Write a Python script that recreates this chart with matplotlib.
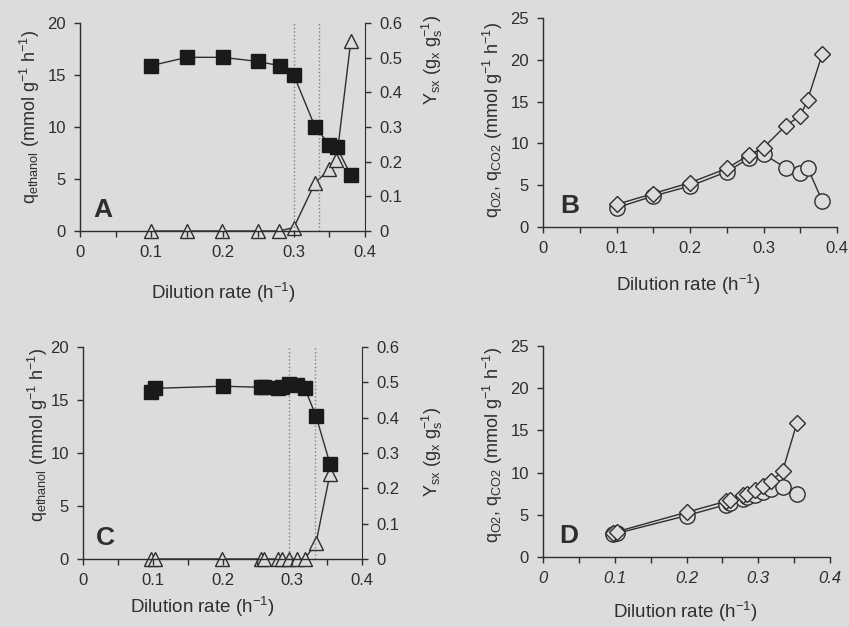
import matplotlib.pyplot as plt
import numpy as np

plt.rcParams['font.family'] = ['Liberation Sans', 'DejaVu Sans']
plt.rcParams['mathtext.fontset'] = 'custom'
plt.rcParams['mathtext.rm'] = 'Liberation Sans'
plt.rcParams['mathtext.it'] = 'Liberation Sans:italic'

# panel A / B (first set of chemostats)
d_ab = [0.10, 0.15, 0.20, 0.25, 0.28, 0.30, 0.33, 0.35, 0.36, 0.38]
q_eth_a = [15.9, 16.7, 16.7, 16.3, 15.9, 15.0, 10.0, 8.3, 8.1, 5.4]
ysx_a = [0.0, 0.0, 0.0, 0.0, 0.0, 0.01, 0.139, 0.178, 0.206, 0.547]
q_co2_b = [2.7, 4.0, 5.3, 7.0, 8.6, 9.5, 12.1, 13.3, 15.2, 20.7]
q_o2_b = [2.3, 3.7, 4.9, 6.6, 8.2, 8.7, 7.1, 6.5, 7.1, 3.1]
crit_a = [0.30, 0.335]

# panel C / D (second set)
d_cd = [0.097, 0.103, 0.20, 0.255, 0.26, 0.279, 0.285, 0.296, 0.307, 0.318, 0.334, 0.354]
q_eth_c = [15.8, 16.1, 16.3, 16.2, 16.2, 16.1, 16.2, 16.5, 16.4, 16.1, 13.5, 9.0]
ysx_c = [0.0, 0.0, 0.0, 0.0, 0.0, 0.0, 0.0, 0.0, 0.0, 0.0, 0.045, 0.24]
q_co2_d = [2.9, 3.0, 5.3, 6.6, 6.8, 7.3, 7.5, 7.9, 8.4, 9.0, 10.2, 15.9]
q_o2_d = [2.7, 2.8, 4.9, 6.2, 6.4, 6.9, 7.1, 7.3, 7.7, 8.0, 8.3, 7.5]
crit_c = [0.295, 0.333]

bg = '#dcdcdc'
ink = '#2e2e2e'

lbl_q = r"q$_{\mathrm{ethanol}}$ (mmol g$^{\mathrm{-1}}$ h$^{\mathrm{-1}}$)"
lbl_y = r"Y$_{\mathrm{sx}}$ (g$_{\mathrm{x}}$ g$_{\mathrm{s}}^{\mathrm{-1}}$)"
lbl_o = r"q$_{\mathrm{O2}}$, q$_{\mathrm{CO2}}$ (mmol g$^{\mathrm{-1}}$ h$^{\mathrm{-1}}$)"
lbl_x = r"Dilution rate (h$^{\mathrm{-1}}$)"

W, H = 849, 627
fig = plt.figure(figsize=(W / 100, H / 100), dpi=100, facecolor=bg)


def box(l, t, r, b):
    # pixel box -> figure fraction
    return [l / W, 1 - b / H, (r - l) / W, (b - t) / H]


def style(ax, ymax, ystep, italic=False):
    ax.set_facecolor('none')
    ax.set_xlim(0, 0.4)
    ax.set_ylim(0, ymax)
    ax.set_xticks(np.arange(0, 0.41, 0.1))
    ax.set_xticks(np.arange(0.05, 0.4, 0.1), minor=True)
    ax.set_xticklabels(['0', '0.1', '0.2', '0.3', '0.4'], style='italic' if italic else 'normal')
    ax.set_yticks(np.arange(0, ymax + 0.1, ystep))
    ax.spines['top'].set_visible(False)
    ax.spines['right'].set_visible(False)
    for s in ax.spines.values():
        s.set_color(ink)
        s.set_linewidth(1.0)
    ax.tick_params(which='both', direction='out', length=4, width=1, color=ink,
                   labelcolor=ink, labelsize=12, pad=6)


def left_panel(rect, d, q, y, crit, letter, pos_y, pos_r, pos_x):
    ax = fig.add_axes(rect)
    style(ax, 20, 5)
    for c in crit:
        ax.axvline(c, color='#7a8090', ls=':', lw=1.0, zorder=1)
    ax2 = ax.twinx()
    ax2.set_ylim(0, 0.6)
    ax2.set_yticks(np.arange(0, 0.61, 0.1))
    ax2.set_yticklabels(['0', '0.1', '0.2', '0.3', '0.4', '0.5', '0.6'])
    for s in ['top', 'left', 'bottom']:
        ax2.spines[s].set_visible(False)
    ax2.spines['right'].set_color(ink)
    ax2.tick_params(direction='out', length=4, width=1, color=ink,
                    labelcolor=ink, labelsize=12, pad=6)
    ax2.plot(d, y, '-^', color=ink, lw=1.0, ms=10, mfc=bg, mec=ink, mew=1.0,
             zorder=3, clip_on=False)
    ax.plot(d, q, '-s', color=ink, lw=1.0, ms=10, mfc='#1a1a1a', mec='#1a1a1a',
            zorder=4, clip_on=False)
    ax.set_zorder(ax2.get_zorder() + 1)
    ax.text(0.08, 0.1, letter, transform=ax.transAxes, fontsize=19, fontweight='bold',
            color=ink, ha='center', va='center')
    fig.text(pos_y[0] / W, 1 - pos_y[1] / H, lbl_q, rotation=90, ha='center', va='center',
             fontsize=13, color=ink)
    fig.text(pos_r[0] / W, 1 - pos_r[1] / H, lbl_y, rotation=90, ha='center', va='center',
             fontsize=13, color=ink)
    fig.text(pos_x[0] / W, 1 - pos_x[1] / H, lbl_x, ha='center', va='center',
             fontsize=13.5, color=ink)


def right_panel(rect, d, co2, o2, letter, pos_y, pos_x, italic=False):
    ax = fig.add_axes(rect)
    style(ax, 25, 5, italic)
    ax.plot(d, o2, '-o', color=ink, lw=1.0, ms=11, mfc=bg, mec=ink, mew=1.0,
            zorder=3, clip_on=False)
    ax.plot(d, co2, '-D', color=ink, lw=1.0, ms=8, mfc=bg, mec=ink, mew=1.0,
            zorder=4, clip_on=False)
    ax.text(0.09, 0.1, letter, transform=ax.transAxes, fontsize=19, fontweight='bold',
            color=ink, ha='center', va='center')
    fig.text(pos_y[0] / W, 1 - pos_y[1] / H, lbl_o, rotation=90, ha='center', va='center',
             fontsize=13, color=ink)
    fig.text(pos_x[0] / W, 1 - pos_x[1] / H, lbl_x, ha='center', va='center',
             fontsize=13.5, color=ink)


left_panel(box(80, 23, 365, 231), d_ab, q_eth_a, ysx_a, crit_a, 'A',
           (30, 117), (432, 60), (223, 293))
right_panel(box(543, 18, 837, 227), d_ab, q_co2_b, q_o2_b, 'B', (493, 120), (688, 285))
left_panel(box(83, 347, 362, 559), d_cd, q_eth_c, ysx_c, crit_c, 'C',
           (38, 435), (432, 452), (202, 607))
right_panel(box(543, 346, 830, 557), d_cd, q_co2_d, q_o2_d, 'D', (493, 445), (685, 612),
            italic=True)

plt.savefig('out.png', dpi=100, facecolor=bg)
